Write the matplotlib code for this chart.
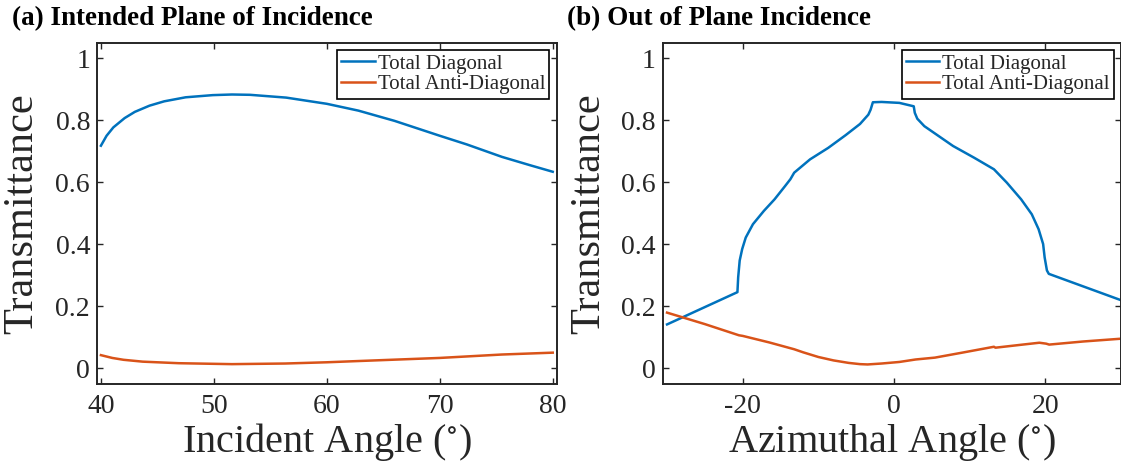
import numpy as np
import matplotlib
matplotlib.use('Agg')
import matplotlib.pyplot as plt

plt.rcParams['font.family'] = ['Liberation Serif', 'DejaVu Serif']
plt.rcParams['mathtext.fontset'] = 'stix'
plt.rcParams['axes.unicode_minus'] = False

# (a) transmittance vs incident angle
incident_angle = [40, 40.5, 41.1, 42.1, 43.0, 44.3, 45.6, 47.5, 49.9, 51.6, 53.2, 56.4,
                  60.0, 62.8, 66.0, 70.0, 72.4, 75.5, 78.0, 80]
diag_a = [0.718, 0.750, 0.777, 0.807, 0.827, 0.847, 0.861, 0.874, 0.881, 0.883, 0.882, 0.873,
          0.853, 0.831, 0.798, 0.750, 0.722, 0.682, 0.655, 0.634]
anti_angle = [40, 41.0, 42.0, 43.7, 46.9, 51.6, 56.3, 60.0, 62.8, 70.0, 75.5, 80]
anti_a = [0.043, 0.034, 0.028, 0.022, 0.017, 0.014, 0.016, 0.020, 0.024, 0.034, 0.045, 0.051]

# (b) transmittance vs azimuthal angle
azim_diag = [-30, -20.7, -20.6, -20.4, -20.07, -19.6, -18.65, -17.2, -15.8, -14.4, -13.7, -13.2,
             -11.1, -8.7, -6.4, -4.5, -3.4, -3.1, -2.8, -1.65, 0.7, 2.6, 2.74, 3.07, 4.0,
             5.9, 7.8, 10.6, 13.2, 14.9, 16.8, 18.2, 19.1, 19.7, 19.9, 20.2, 20.45, 30]
diag_b = [0.142, 0.246, 0.294, 0.348, 0.385, 0.422, 0.465, 0.508, 0.545, 0.588, 0.610, 0.631,
          0.674, 0.711, 0.752, 0.788, 0.818, 0.834, 0.858, 0.859, 0.856, 0.845, 0.824, 0.805, 0.781,
          0.749, 0.717, 0.679, 0.642, 0.599, 0.545, 0.497, 0.449, 0.401, 0.358, 0.316, 0.305, 0.220]
azim_anti = [-30, -25, -20.5, -20.0, -16.5, -13.2, -12.0, -10.0, -8.0, -6.0, -4.5, -3.5, -1.65,
             0.7, 2.85, 5.4, 9.0, 13.2, 13.4, 17.0, 19.2, 20.1, 20.5, 25, 30]
anti_b = [0.180, 0.143, 0.107, 0.105, 0.084, 0.062, 0.052, 0.037, 0.026, 0.018, 0.014, 0.013,
          0.016, 0.021, 0.029, 0.035, 0.051, 0.070, 0.067, 0.077, 0.083, 0.080, 0.077, 0.087, 0.096]

blue = '#0072BD'
orange = '#D95319'
dark = '#262626'

fig = plt.figure(figsize=(11.21, 4.65), dpi=100)
ax1 = fig.add_axes([0.0865, 0.1742, 0.4101, 0.734])
ax2 = fig.add_axes([0.591, 0.1742, 0.4094, 0.734])


def style_axes(ax, xlabel):
    for s in ax.spines.values():
        s.set_color(dark)
        s.set_linewidth(1.4)
    ax.tick_params(direction='in', length=4, width=1, colors=dark, labelsize=20,
                   top=True, right=True)
    ax.tick_params(axis='x', pad=7)
    ax.tick_params(axis='y', pad=5)
    ax.set_ylim(-0.05, 1.05)
    ax.set_yticks([0, 0.2, 0.4, 0.6, 0.8, 1])
    ax.set_yticklabels(['0', '0.2', '0.4', '0.6', '0.8', '1'])
    ax.set_ylabel('Transmittance', fontsize=30.5, color=dark, va='center')
    ax.set_xlabel(xlabel, fontsize=29, color=dark, va='center')
    ax.xaxis.set_label_coords(0.5, -0.17)
    leg = ax.legend(loc='upper right', fontsize=15, handlelength=1.6, handletextpad=0.15,
                    labelspacing=0.05, borderpad=0.2, borderaxespad=0.35, fancybox=False,
                    framealpha=1)
    leg.get_frame().set_edgecolor('black')
    leg.get_frame().set_linewidth(1.2)
    for t in leg.get_texts():
        t.set_color(dark)


ax1.plot(incident_angle, diag_a, color=blue, lw=1.8, label='Total Diagonal')
ax1.plot(anti_angle, anti_a, color=orange, lw=1.8, label='Total Anti-Diagonal')
ax1.set_xlim(39.65, 80.35)
ax1.set_xticks([40, 50, 60, 70, 80])
style_axes(ax1, r'Incident Angle ($^{\circ}$)')
ax1.yaxis.set_label_coords(-0.163, 0.5)

ax2.plot(azim_diag, diag_b, color=blue, lw=1.8, label='Total Diagonal')
ax2.plot(azim_anti, anti_b, color=orange, lw=1.8, label='Total Anti-Diagonal')
ax2.set_xlim(-30.6, 30.05)
ax2.set_xticks([-20, 0, 20])
style_axes(ax2, r'Azimuthal Angle ($^{\circ}$)')
ax2.yaxis.set_label_coords(-0.161, 0.5)

fig.text(0.011, 0.945, '(a) Intended Plane of Incidence', fontsize=19.5, fontweight='bold',
         color='black', va='baseline')
fig.text(0.506, 0.945, '(b) Out of Plane Incidence', fontsize=19.5, fontweight='bold',
         color='black', va='baseline')

fig.savefig('out.png', dpi=100)
